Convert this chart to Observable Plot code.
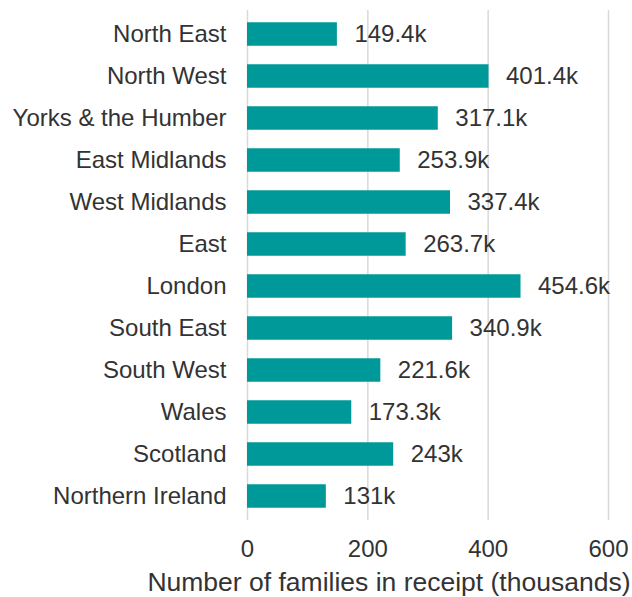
<!DOCTYPE html>
<html>
<head>
<meta charset="utf-8">
<script src="https://cdn.jsdelivr.net/npm/d3@7"></script>
<script src="https://cdn.jsdelivr.net/npm/@observablehq/plot@0.6"></script>
<style>
  html, body { margin: 0; padding: 0; background: #fff; }
  svg { display: block; }
</style>
</head>
<body>
<div id="chart"></div>
<script>
const regions = ["North East", "North West", "Yorks & the Humber", "East Midlands", "West Midlands", "East", "London", "South East", "South West", "Wales", "Scotland", "Northern Ireland"];
const families = [149.4, 401.4, 317.1, 253.9, 337.4, 263.7, 454.6, 340.9, 221.6, 173.3, 243, 131];
const valueLabels = ["149.4k", "401.4k", "317.1k", "253.9k", "337.4k", "263.7k", "454.6k", "340.9k", "221.6k", "173.3k", "243k", "131k"];
const xTicks = [0, 200, 400, 600];
const axisTitle = "Number of families in receipt (thousands)";

const data = regions.map((r, i) => ({region: r, value: families[i], label: valueLabels[i]}));

const FONT = "'Liberation Sans', Arial, Helvetica, sans-serif";
const TEXT = "#333333";

const chart = Plot.plot({
  width: 632,
  height: 597,
  marginLeft: 247,
  marginRight: 24,
  marginTop: 10,
  marginBottom: 77,
  style: {fontFamily: FONT, color: TEXT, background: "#fff"},
  x: {domain: [0, 600], label: null},
  y: {domain: regions, padding: 0, label: null},
  marks: [
    Plot.gridX(xTicks, {stroke: "#d9d9d9", strokeOpacity: 1, strokeWidth: 1.5}),
    Plot.barX(data, {x: "value", y: "region", fill: "#009999", insetTop: 9.25, insetBottom: 9.25}),
    Plot.text(data, {x: "value", y: "region", text: "label", textAnchor: "start", dx: 17, fontSize: 24, fill: TEXT}),
    Plot.axisX(xTicks, {tickSize: 0, tickPadding: 19, fontSize: 24, fill: TEXT, label: null}),
    Plot.axisY({tickSize: 0, tickPadding: 21, fontSize: 24, fill: TEXT, label: null}),
    Plot.text([axisTitle], {frameAnchor: "bottom-right", textAnchor: "end", dx: 22, dy: 70, fontSize: 26.5, fill: TEXT})
  ]
});
document.getElementById("chart").appendChild(chart);
</script>
</body>
</html>
